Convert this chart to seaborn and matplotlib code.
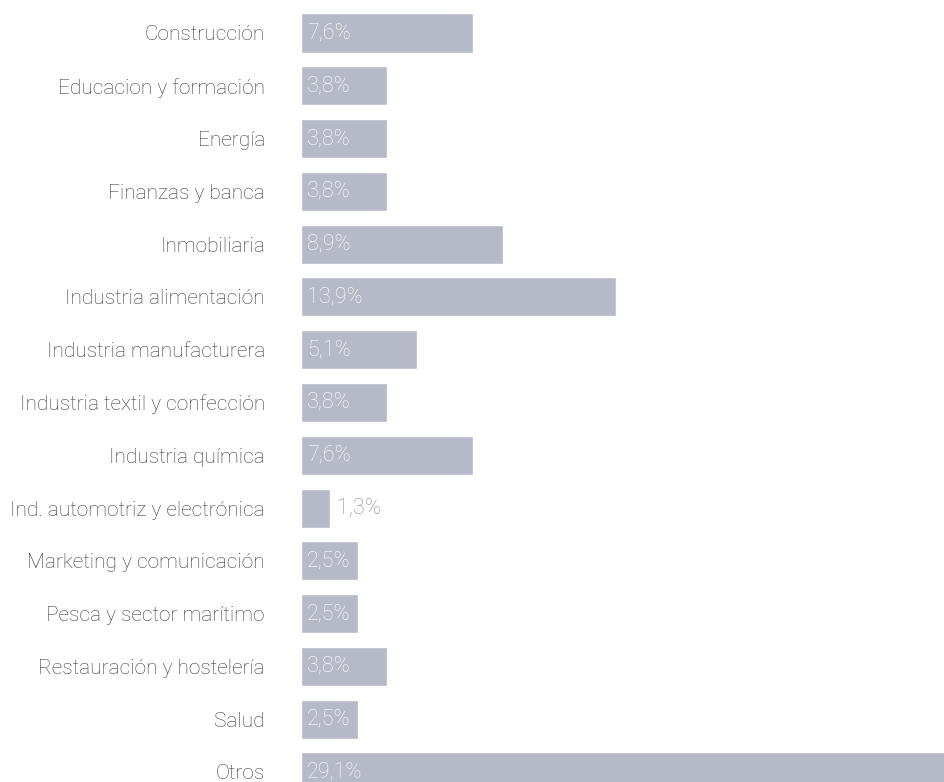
import matplotlib
matplotlib.use("Agg")
import matplotlib.pyplot as plt
import seaborn as sns
import pandas as pd

sectores = [
    "Construcción", "Educacion y formación", "Energía", "Finanzas y banca",
    "Inmobiliaria", "Industria alimentación", "Industria manufacturera",
    "Industria textil y confección", "Industria química",
    "Ind. automotriz y electrónica", "Marketing y comunicación",
    "Pesca y sector marítimo", "Restauración y hostelería", "Salud", "Otros",
]
porcentajes = [7.6, 3.8, 3.8, 3.8, 8.9, 13.9, 5.1, 3.8, 7.6, 1.3, 2.5, 2.5, 3.8, 2.5, 29.1]
etiquetas = ["7,6%", "3,8%", "3,8%", "3,8%", "8,9%", "13,9%", "5,1%", "3,8%",
             "7,6%", "1,3%", "2,5%", "2,5%", "3,8%", "2,5%", "29,1%"]

df = pd.DataFrame({"sector": sectores, "pct": porcentajes})

sns.set_theme(style="white")
plt.rcParams["font.family"] = ["Roboto", "DejaVu Sans"]

BAR = "#b6bac6"
fig = plt.figure(figsize=(9.44, 7.82), dpi=100)
ax = fig.add_axes([301 / 944, 0, 1 - 301 / 944, 1])

sns.barplot(data=df, x="pct", y="sector", orient="h", color=BAR,
            saturation=1, width=0.74, ax=ax)

ax.set_xlim(0, 643 / 22.66)
ax.set_ylim(14.19, -0.625)
ax.set_xlabel("")
ax.set_ylabel("")
ax.set_xticks([])
for s in ax.spines.values():
    s.set_visible(False)
ax.tick_params(axis="y", length=0, pad=26, labelsize=15, labelcolor="#3a3a3a")
for lab in ax.get_yticklabels():
    lab.set_fontweight("light")

# value labels: inside the bar in white, outside in grey for very short bars
for i, (v, t) in enumerate(zip(porcentajes, etiquetas)):
    if v < 2:
        ax.annotate(t, (v, i), xytext=(5, 0), textcoords="offset points",
                    ha="left", va="center", color="#8c8c8c", fontsize=15.5,
                    fontweight="light")
    else:
        ax.annotate(t, (0, i), xytext=(4.5, 0), textcoords="offset points",
                    ha="left", va="center", color="white", fontsize=15.5,
                    fontweight="light")

fig.savefig("out.png", dpi=100)
